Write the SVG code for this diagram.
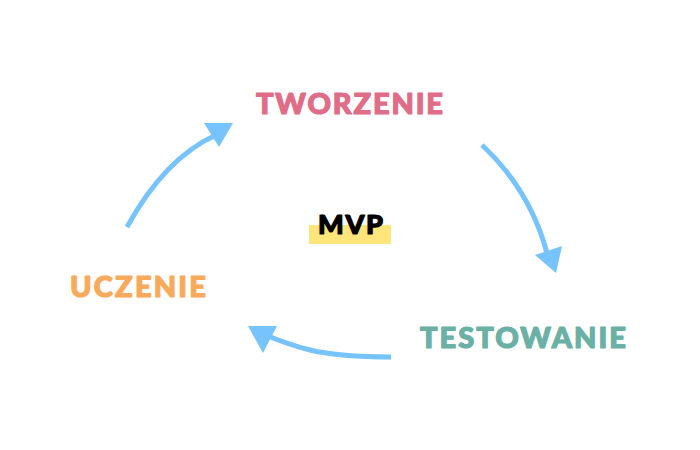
<svg xmlns="http://www.w3.org/2000/svg" width="700" height="450" viewBox="0 0 700 450">
<style>
.lbl{font-family:"Lato","Liberation Sans",sans-serif;font-weight:900;font-size:29px;stroke-width:1.2;stroke-linejoin:round}
.arr{fill:none;stroke:#76C3FD;stroke-width:5;stroke-linecap:butt}
.head{fill:#76C3FD}
</style>
<rect width="700" height="450" fill="#fff"/>
<g id="connectors">
<path class="arr" d="M127,227 Q165,158 216,135"/>
<polygon class="head" points="204,123 233,123 219,147"/>
<path class="arr" d="M482,145 Q530,190 547,253"/>
<polygon class="head" points="535,255 562,246 556,273"/>
<path class="arr" d="M391,357 Q340,357 310,350 Q290,345 268,336"/>
<polygon class="head" points="248,326 277,326 263,353"/>
</g>
<g id="tworzenie"><text class="lbl" x="256" y="114" textLength="187" lengthAdjust="spacing" fill="#E06D87" stroke="#E06D87">TWORZENIE</text></g>
<g id="uczenie"><text class="lbl" x="70" y="297" textLength="136" lengthAdjust="spacing" fill="#F8AA5C" stroke="#F8AA5C">UCZENIE</text></g>
<g id="testowanie"><text class="lbl" x="420" y="348" textLength="206" lengthAdjust="spacing" fill="#6BB0A5" stroke="#6BB0A5">TESTOWANIE</text></g>
<g id="mvp">
<rect x="309" y="225" width="82" height="19" fill="#FFE57A"/>
<text class="lbl" x="318" y="234" textLength="65" lengthAdjust="spacing" fill="#000" stroke="#000" style="font-size:27px">MVP</text>
</g>
</svg>
